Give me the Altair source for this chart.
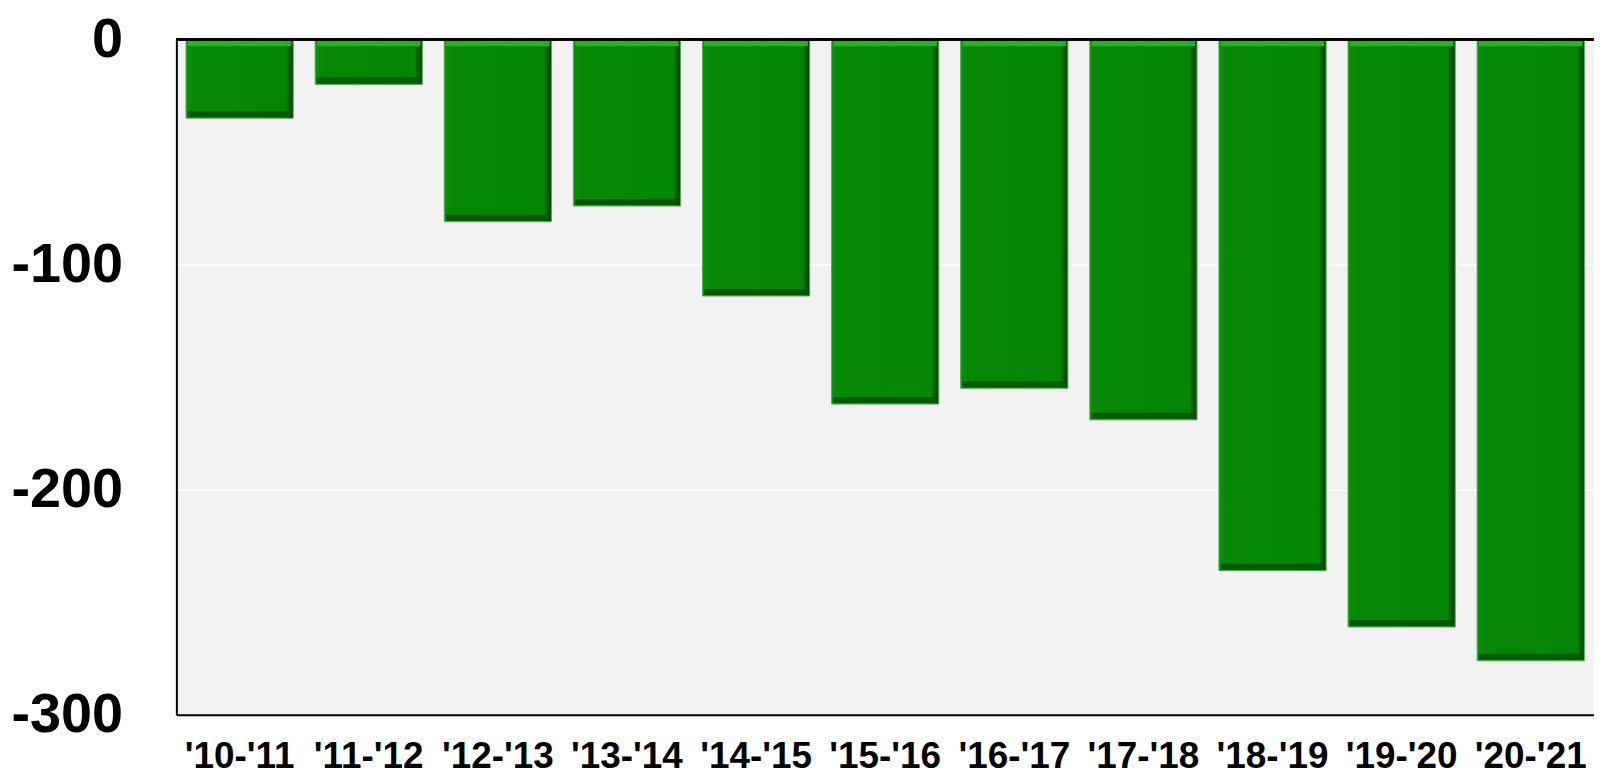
import altair as alt
import pandas as pd

categories = ["'10-'11", "'11-'12", "'12-'13", "'13-'14", "'14-'15", "'15-'16",
              "'16-'17", "'17-'18", "'18-'19", "'19-'20", "'20-'21"]
values = [-35, -20, -81, -74, -114, -162, -155, -169, -236, -261, -276]
y_ticks = [0, -100, -200, -300]

df = pd.DataFrame({"period": categories, "value": values})

FONT = "Liberation Sans, Arial, sans-serif"

x_enc = alt.X("period:N", sort=categories,
              scale=alt.Scale(paddingInner=0.17, paddingOuter=0.075),
              axis=alt.Axis(title=None, labelAngle=0, labelFontSize=37, labelFont=FONT,
                            labelFontWeight="bold", labelColor="black", labelPadding=24,
                            ticks=False, domainColor="black", domainWidth=2))
y_enc = alt.Y("value:Q", scale=alt.Scale(domain=[-300, 0], nice=False),
              axis=alt.Axis(title=None, values=y_ticks, labelFontSize=56, labelFont=FONT,
                            labelFontWeight="bold", labelColor="black", labelPadding=54,
                            labelExpr="'' + datum.value",
                            ticks=False, domainColor="black", domainWidth=2,
                            grid=True, gridColor="white", gridWidth=1.5))

base = alt.Chart(df)

bars = base.mark_bar(
    color={"gradient": "linear", "x1": 0, "y1": 0, "x2": 1, "y2": 0,
           "stops": [{"offset": 0, "color": "#0a920a"},
                     {"offset": 0.06, "color": "#068806"},
                     {"offset": 0.93, "color": "#058505"},
                     {"offset": 1, "color": "#023a02"}]},
    stroke="#4caf4c", strokeWidth=1
).encode(x=x_enc, y=y_enc)

top_hl = base.mark_tick(color="#2fb52f", thickness=6, size=104, yOffset=4, opacity=0.9).encode(
    x=alt.X("period:N", sort=categories), y=alt.datum(0))
bot_sh = base.mark_tick(color="#045204", thickness=6, size=104, yOffset=-4, opacity=0.85).encode(
    x=alt.X("period:N", sort=categories), y="value:Q")

top_rule = alt.Chart(df).mark_rule(color="black", strokeWidth=2).encode(y=alt.datum(0))

chart = alt.layer(bars, top_hl, bot_sh, top_rule).properties(
    width=1423, height=678,
    padding={"left": 169, "top": 30, "right": 0, "bottom": 66},
    autosize=alt.AutoSizeParams(type="none"),
    view=alt.ViewBackground(fill="#f2f2f2", stroke="transparent"),
).configure(background="white")

chart.save("out.html", embed_options={"renderer": "svg", "actions": False})
